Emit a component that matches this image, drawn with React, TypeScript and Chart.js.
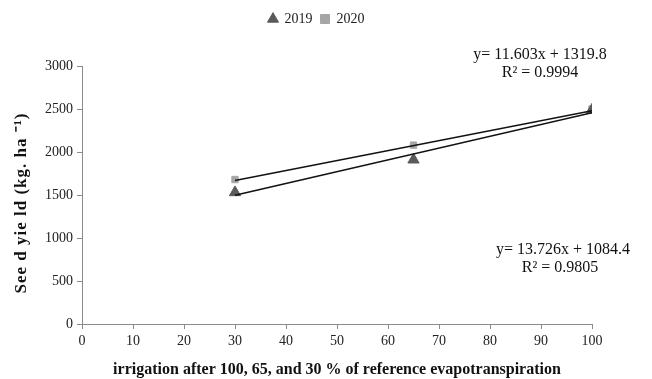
import React, { useEffect, useRef } from "react";
import { Chart, registerables } from "chart.js";

Chart.register(...registerables);

const xValues = [30, 65, 100];
const yield2019 = [1530, 1910, 2490];
const yield2020 = [1680, 2080, 2500];
const fit2019 = { slope: 13.726, intercept: 1084.4, r2: "0.9805" };
const fit2020 = { slope: 11.603, intercept: 1319.8, r2: "0.9994" };
const xTicks = [0, 10, 20, 30, 40, 50, 60, 70, 80, 90, 100];
const yTicks = [0, 500, 1000, 1500, 2000, 2500, 3000];
const yTitle = "See d yie ld (kg. ha ⁻¹)";
const xTitle = "irrigation after 100, 65, and 30 % of reference evapotranspiration";

const serif = "'Liberation Serif', 'Times New Roman', serif";

const annotationPlugin = {
  id: "equations",
  beforeInit(chart: any) {
    const legend = chart.legend;
    if (legend) {
      const origFit = legend.fit.bind(legend);
      legend.fit = function () {
        origFit();
        this.height += 30;
      };
    }
  },
  afterDraw(chart: any) {
    const ctx = chart.ctx;
    ctx.save();
    ctx.fillStyle = "#111";
    ctx.font = `16px ${serif}`;
    ctx.textAlign = "center";
    ctx.textBaseline = "middle";
    ctx.fillText(`y= ${fit2020.slope}x + ${fit2020.intercept}`, 540, 55);
    ctx.fillText(`R² = ${fit2020.r2}`, 540, 73);
    ctx.fillText(`y= ${fit2019.slope}x + ${fit2019.intercept}`, 563, 250);
    ctx.fillText(`R² = ${fit2019.r2}`, 560, 268);
    // y axis title
    const area = chart.chartArea;
    ctx.translate(22, (area.top + area.bottom) / 2 + 8);
    ctx.rotate(-Math.PI / 2);
    ctx.font = `bold 17px ${serif}`;
    (ctx as any).letterSpacing = "1px";
    ctx.fillText(yTitle, 0, 0);
    ctx.restore();
  },
};

function fitLine(f: { slope: number; intercept: number }) {
  return [xValues[0], xValues[xValues.length - 1]].map((x) => ({
    x,
    y: f.slope * x + f.intercept,
  }));
}

export default function App() {
  const ref = useRef<HTMLCanvasElement>(null);
  useEffect(() => {
    if (!ref.current) return;
    const chart = new Chart(ref.current, {
      type: "scatter",
      data: {
        datasets: [
          {
            label: "2019",
            data: xValues.map((x, i) => ({ x, y: yield2019[i] })),
            pointStyle: "triangle",
            pointRadius: 6.5,
            backgroundColor: "#5a5a5a",
            borderColor: "#5a5a5a",
            order: 1,
          },
          {
            label: "2020",
            data: xValues.map((x, i) => ({ x, y: yield2020[i] })),
            pointStyle: "rect",
            pointRadius: 4.5,
            backgroundColor: "#a6a6a6",
            borderColor: "#a6a6a6",
            order: 1,
          },
          {
            label: "trend2019",
            type: "line",
            data: fitLine(fit2019),
            borderColor: "#111",
            borderWidth: 1.5,
            pointRadius: 0,
            showLine: true,
            order: 0,
          } as any,
          {
            label: "trend2020",
            type: "line",
            data: fitLine(fit2020),
            borderColor: "#111",
            borderWidth: 1.5,
            pointRadius: 0,
            showLine: true,
            order: 0,
          } as any,
        ],
      },
      options: {
        animation: false,
        responsive: true,
        maintainAspectRatio: false,
        layout: { padding: { left: 41, right: 60, top: 4, bottom: 0 } },
        plugins: {
          tooltip: { enabled: false },
          legend: {
            position: "top",
            labels: {
              usePointStyle: true,
              boxWidth: 9,
              boxHeight: 9,
              padding: 8,
              color: "#222",
              font: { family: serif, size: 14 },
              filter: (item: any) => item.text === "2019" || item.text === "2020",
            },
          },
        },
        scales: {
          x: {
            type: "linear",
            min: 0,
            max: 100,
            afterBuildTicks: (axis: any) => {
              axis.ticks = xTicks.map((v) => ({ value: v }));
            },
            grid: { drawOnChartArea: false, drawTicks: true, tickLength: 5, color: "#8a8a8a" },
            border: { display: true, color: "#8a8a8a" },
            ticks: {
              color: "#222",
              font: { family: serif, size: 14 },
              padding: 4,
              maxRotation: 0,
              callback: (v: any) => String(v),
            },
            title: {
              display: true,
              text: xTitle,
              color: "#111",
              font: { family: serif, size: 16, weight: "bold" },
              padding: { top: 6, bottom: 0 },
            },
          },
          y: {
            type: "linear",
            min: 0,
            max: 3000,
            afterBuildTicks: (axis: any) => {
              axis.ticks = yTicks.map((v) => ({ value: v }));
            },
            grid: { drawOnChartArea: false, drawTicks: true, tickLength: 5, color: "#8a8a8a" },
            border: { display: true, color: "#8a8a8a" },
            ticks: {
              color: "#222",
              font: { family: serif, size: 14 },
              padding: 4,
              callback: (v: any) => String(v),
            },
            title: { display: false },
          },
        },
      },
      plugins: [annotationPlugin],
    });
    return () => chart.destroy();
  }, []);
  return (
    <div style={{ position: "fixed", left: 0, top: 0, width: 652, height: 379, background: "#fff" }}>
      <canvas ref={ref} />
    </div>
  );
}
